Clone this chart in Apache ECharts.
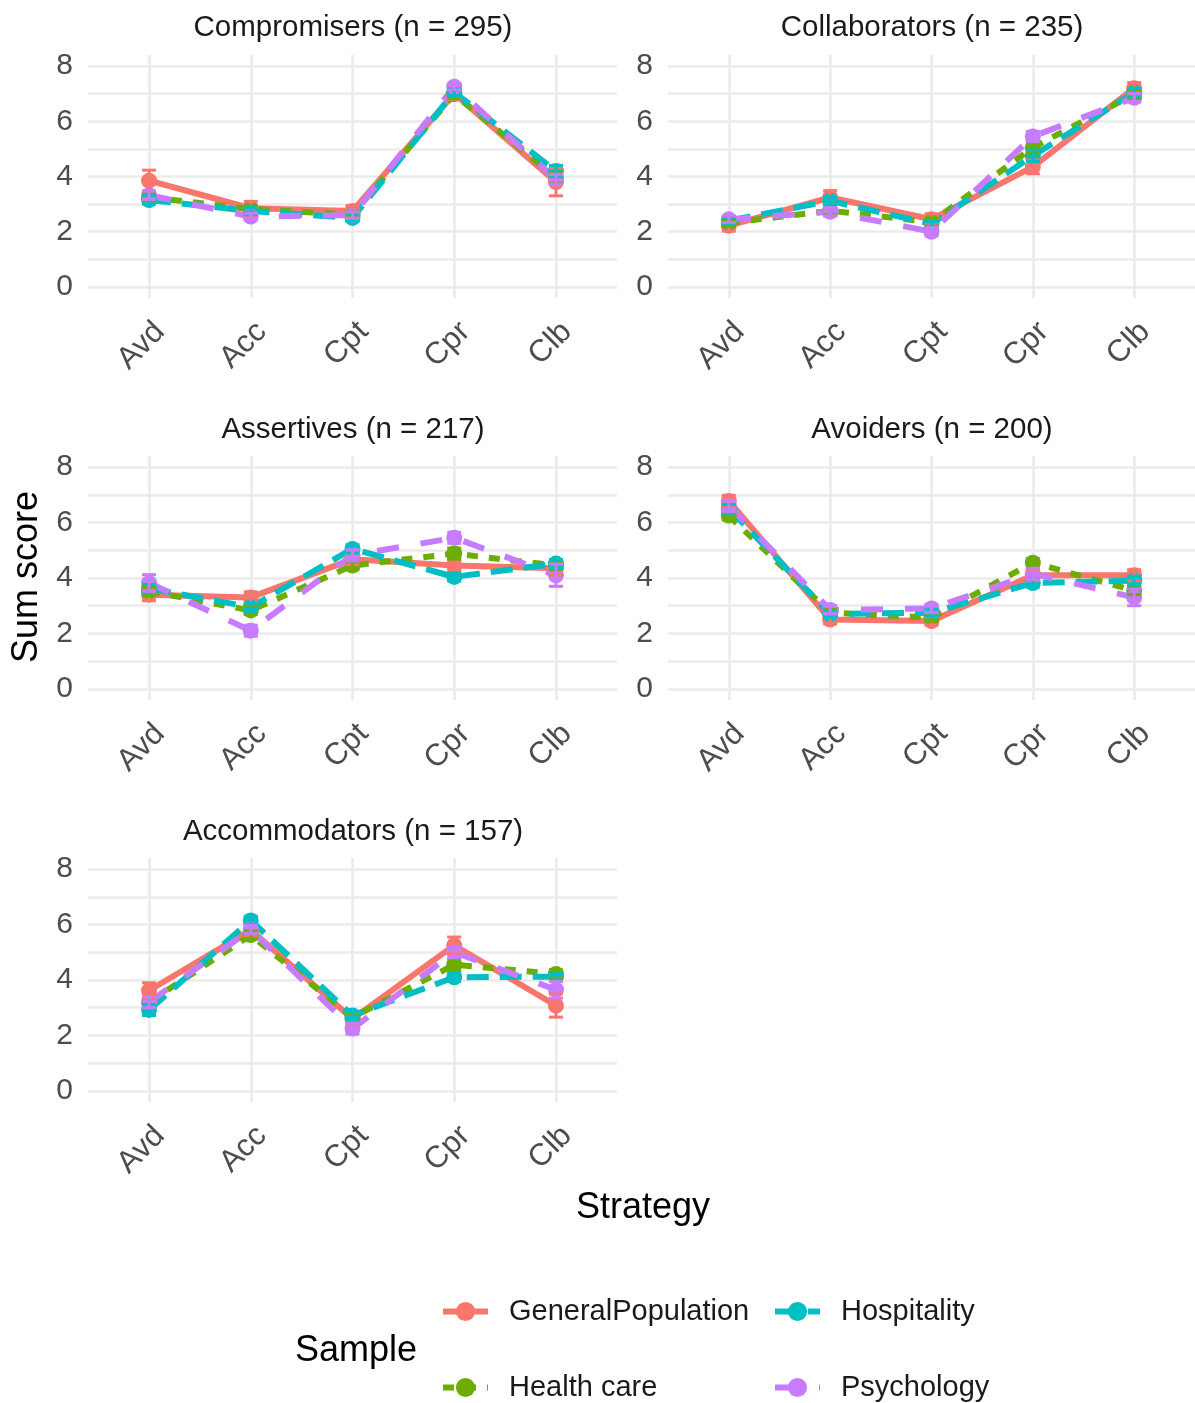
<!DOCTYPE html>
<html>
<head>
<meta charset="utf-8">
<script src="https://cdn.jsdelivr.net/npm/echarts@6/dist/echarts.min.js"></script>
<style>
html,body{margin:0;padding:0;background:#ffffff;}
#chart{width:1195px;height:1403px;}
</style>
</head>
<body>
<div id="chart"></div>
<script>
// ---------- DATA ----------
const strategies = ['Avd', 'Acc', 'Cpt', 'Cpr', 'Clb'];
const samples = ['GeneralPopulation', 'Health care', 'Hospitality', 'Psychology'];
const panelTitles = ['Compromisers (n = 295)', 'Collaborators (n = 235)', 'Assertives (n = 217)', 'Avoiders (n = 200)', 'Accommodators (n = 157)'];
const yTickLabels = [0, 2, 4, 6, 8];

// mean sum score per sample (rows: GeneralPopulation, Health care, Hospitality, Psychology)
const compromisersMeans = [
  [3.85, 2.85, 2.75, 7.00, 3.80],
  [3.25, 2.82, 2.62, 6.98, 3.95],
  [3.15, 2.75, 2.50, 7.05, 4.20],
  [3.32, 2.55, 2.60, 7.25, 3.90]
];
const compromisersErr = [
  [0.38, 0.25, 0.20, 0.20, 0.50],
  [0.15, 0.12, 0.12, 0.15, 0.20],
  [0.15, 0.12, 0.12, 0.12, 0.20],
  [0.15, 0.12, 0.12, 0.12, 0.18]
];
const collaboratorsMeans = [
  [2.22, 3.24, 2.45, 4.35, 7.20],
  [2.32, 2.76, 2.35, 5.05, 6.98],
  [2.40, 3.12, 2.28, 4.75, 7.04],
  [2.45, 2.72, 2.00, 5.45, 6.85]
];
const collaboratorsErr = [
  [0.20, 0.25, 0.20, 0.25, 0.20],
  [0.12, 0.15, 0.15, 0.20, 0.15],
  [0.12, 0.15, 0.12, 0.20, 0.15],
  [0.12, 0.15, 0.15, 0.18, 0.15]
];
const assertivesMeans = [
  [3.40, 3.30, 4.68, 4.45, 4.35],
  [3.52, 2.83, 4.45, 4.88, 4.45],
  [3.62, 2.95, 5.05, 4.04, 4.52],
  [3.82, 2.10, 4.82, 5.45, 4.10]
];
const assertivesErr = [
  [0.22, 0.20, 0.20, 0.20, 0.25],
  [0.15, 0.15, 0.15, 0.20, 0.15],
  [0.15, 0.15, 0.15, 0.15, 0.15],
  [0.30, 0.20, 0.20, 0.20, 0.40]
];
const avoidersMeans = [
  [6.78, 2.50, 2.45, 4.10, 4.10],
  [6.25, 2.75, 2.57, 4.55, 3.55],
  [6.50, 2.70, 2.75, 3.82, 3.90],
  [6.60, 2.85, 2.90, 4.15, 3.30]
];
const avoidersErr = [
  [0.20, 0.15, 0.15, 0.20, 0.20],
  [0.15, 0.12, 0.12, 0.15, 0.15],
  [0.15, 0.12, 0.12, 0.15, 0.15],
  [0.20, 0.15, 0.15, 0.20, 0.30]
];
const accommodatorsMeans = [
  [3.62, 5.80, 2.60, 5.25, 3.08],
  [3.20, 5.62, 2.65, 4.55, 4.22],
  [2.92, 6.15, 2.72, 4.10, 4.12],
  [3.20, 5.82, 2.25, 5.00, 3.65]
];
const accommodatorsErr = [
  [0.28, 0.20, 0.20, 0.30, 0.42],
  [0.20, 0.15, 0.15, 0.20, 0.15],
  [0.20, 0.15, 0.15, 0.15, 0.15],
  [0.20, 0.15, 0.20, 0.20, 0.30]
];

// ---------- STYLE ----------
const panelMeans = [compromisersMeans, collaboratorsMeans, assertivesMeans, avoidersMeans, accommodatorsMeans];
const panelErr = [compromisersErr, collaboratorsErr, assertivesErr, avoidersErr, accommodatorsErr];
const colors = ['#F8766D', '#6DAD00', '#00BFC4', '#C77CFF'];
const dashes = ['solid', [11, 11], [22, 11], [22, 22]];
const FONT = 'Liberation Sans, Arial, Helvetica, sans-serif';
const grids = [
  { left: 88,  top: 55,  width: 529, height: 243 },
  { left: 668, top: 55,  width: 527, height: 243 },
  { left: 88,  top: 456, width: 529, height: 244 },
  { left: 668, top: 456, width: 527, height: 244 },
  { left: 88,  top: 858, width: 529, height: 244 }
];
const titlePos = [[353, 28], [932, 28], [353, 430], [932, 430], [353, 832]];
const gridLine = { color: '#ebebeb', width: 2.7 };

const xAxes = [], yAxes = [], series = [], graphics = [];
grids.forEach((g, p) => {
  xAxes.push({
    type: 'value', gridIndex: p, min: 0.4, max: 5.6,
    axisLine: { show: false },
    axisTick: { show: false, customValues: [1, 2, 3, 4, 5] },
    axisLabel: {
      customValues: [1, 2, 3, 4, 5],
      formatter: v => strategies[Math.round(v) - 1],
      rotate: 45, margin: 18, align: 'right', verticalAlign: 'top', padding: 0,
      fontSize: 31, color: '#4d4d4d', fontFamily: FONT
    },
    splitLine: { show: true, lineStyle: gridLine }
  });
  yAxes.push({
    type: 'value', gridIndex: p, min: -0.4, max: 8.4,
    axisLine: { show: false },
    axisTick: { show: false, customValues: [0, 1, 2, 3, 4, 5, 6, 7, 8] },
    axisLabel: { customValues: yTickLabels, margin: 15, fontSize: 30, color: '#4d4d4d', fontFamily: FONT },
    splitLine: { show: true, lineStyle: gridLine }
  });
  graphics.push({
    type: 'text', x: titlePos[p][0], y: titlePos[p][1],
    style: { text: panelTitles[p], fontSize: 29.5, fontFamily: FONT, fill: '#1a1a1a', align: 'center', verticalAlign: 'middle' }
  });
  samples.forEach((s, k) => {
    series.push({
      type: 'line', name: s, xAxisIndex: p, yAxisIndex: p,
      data: strategies.map((c, j) => [j + 1, panelMeans[p][k][j]]),
      symbol: 'circle', symbolSize: 16,
      itemStyle: { color: colors[k] },
      lineStyle: { color: colors[k], width: 6, type: dashes[k], cap: 'butt' },
      emphasis: { disabled: true },
      z: 2, animation: false
    });
  });
  samples.forEach((s, k) => {
    series.push({
      type: 'custom', name: s, xAxisIndex: p, yAxisIndex: p,
      data: strategies.map((c, j) => [j + 1, panelMeans[p][k][j] - panelErr[p][k][j], panelMeans[p][k][j] + panelErr[p][k][j]]),
      encode: { x: 0, y: [1, 2] },
      renderItem: (params, api) => {
        const lo = api.coord([api.value(0), api.value(1)]);
        const hi = api.coord([api.value(0), api.value(2)]);
        const w = 7;
        const st = { stroke: colors[k], lineWidth: 3 };
        return {
          type: 'group', children: [
            { type: 'line', shape: { x1: hi[0], y1: hi[1], x2: lo[0], y2: lo[1] }, style: st },
            { type: 'line', shape: { x1: hi[0] - w, y1: hi[1], x2: hi[0] + w, y2: hi[1] }, style: st },
            { type: 'line', shape: { x1: lo[0] - w, y1: lo[1], x2: lo[0] + w, y2: lo[1] }, style: st }
          ]
        };
      },
      z: 3, animation: false, silent: true
    });
  });
});

graphics.push(
  { type: 'text', x: 27, y: 577, rotation: Math.PI / 2,
    style: { text: 'Sum score', fontSize: 36, fontFamily: FONT, fill: '#000', align: 'center', verticalAlign: 'middle' } },
  { type: 'text', x: 643, y: 1208,
    style: { text: 'Strategy', fontSize: 36, fontFamily: FONT, fill: '#000', align: 'center', verticalAlign: 'middle' } },
  { type: 'text', x: 295, y: 1351,
    style: { text: 'Sample', fontSize: 36, fontFamily: FONT, fill: '#000', align: 'left', verticalAlign: 'middle' } }
);

const legendBase = {
  orient: 'vertical', top: 1297, height: 150, itemWidth: 45, itemHeight: 24, itemGap: 47, padding: 0,
  selectedMode: false,
  lineStyle: { width: 6 },
  textStyle: { fontSize: 29, color: '#1a1a1a', fontFamily: FONT, padding: [0, 0, 0, 16], lineHeight: 29 }
};

const chart = echarts.init(document.getElementById('chart'), null, { renderer: 'canvas' });
chart.setOption({
  backgroundColor: '#ffffff',
  animation: false,
  textStyle: { fontFamily: FONT },
  grid: grids.map(g => Object.assign({ outerBoundsMode: 'none', containLabel: false }, g)),
  xAxis: xAxes,
  yAxis: yAxes,
  series: series,
  legend: [
    Object.assign({}, legendBase, { left: 440, data: [samples[0], samples[1]] }),
    Object.assign({}, legendBase, { left: 772, data: [samples[2], samples[3]] })
  ],
  graphic: graphics
});
</script>
</body>
</html>
